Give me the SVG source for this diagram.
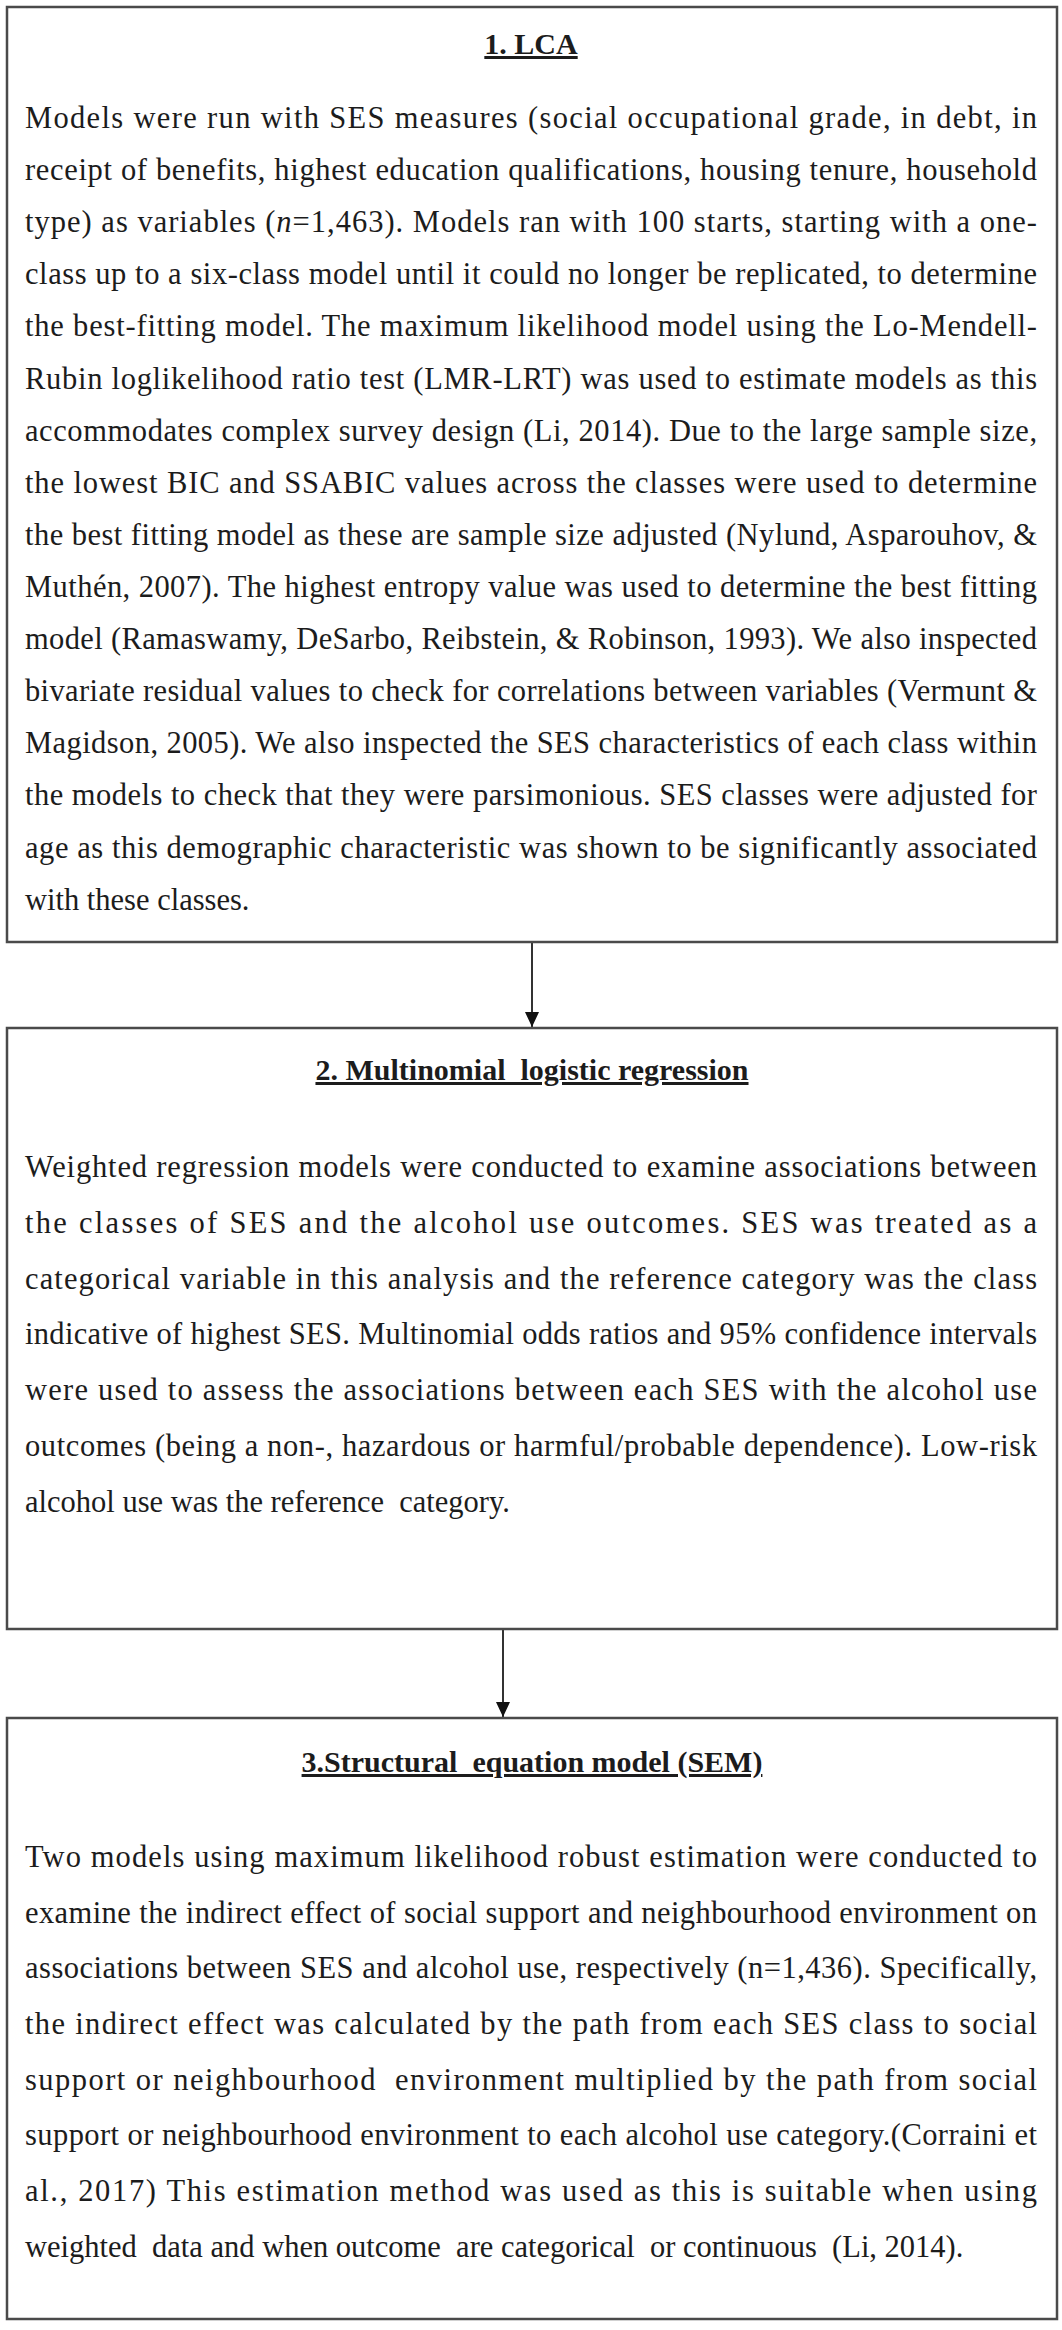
<svg xmlns="http://www.w3.org/2000/svg" width="1062" height="2330" viewBox="0 0 1062 2330">
<style>
.box{fill:#fff;stroke:#4a4a4a;stroke-width:2.5}
.t{font-family:"Liberation Serif","Times New Roman",serif;font-size:30px;font-weight:bold;fill:#1c1c1c;text-anchor:middle;text-decoration:underline;white-space:pre}
.b{font-family:"Liberation Serif","Times New Roman",serif;font-size:30.5px;fill:#1c1c1c;white-space:pre}
.c{stroke:#333;stroke-width:2;fill:none}
</style>
<defs>
<marker id="ah" markerWidth="16" markerHeight="14" refX="15" refY="7" orient="auto" markerUnits="userSpaceOnUse">
<path d="M0,0 L15,7 L0,14 Z" fill="#111"/>
</marker>
</defs>
<rect width="1062" height="2330" fill="#fff"/>
<g id="connectors">
<line class="c" x1="532" y1="942" x2="532" y2="1027" marker-end="url(#ah)"/>
<line class="c" x1="503" y1="1629" x2="503" y2="1717" marker-end="url(#ah)"/>
</g>
<g id="node-lca">
<rect class="box" x="7" y="7" width="1050" height="935"/>
<text class="t" x="531" y="54">1. LCA</text>
<text class="b" x="25" y="128" textLength="1012" lengthAdjust="spacing">Models were run with SES measures (social occupational grade, in debt, in</text>
<text class="b" x="25" y="180" textLength="1012" lengthAdjust="spacing">receipt of benefits, highest education qualifications, housing tenure, household</text>
<text class="b" x="25" y="232" textLength="1012" lengthAdjust="spacing">type) as variables (<tspan font-style="italic">n</tspan>=1,463). Models ran with 100 starts, starting with a one-</text>
<text class="b" x="25" y="284" textLength="1012" lengthAdjust="spacing">class up to a six-class model until it could no longer be replicated, to determine</text>
<text class="b" x="25" y="336" textLength="1012" lengthAdjust="spacing">the best-fitting model. The maximum likelihood model using the Lo-Mendell-</text>
<text class="b" x="25" y="389" textLength="1012" lengthAdjust="spacing">Rubin loglikelihood ratio test (LMR-LRT) was used to estimate models as this</text>
<text class="b" x="25" y="441" textLength="1012" lengthAdjust="spacing">accommodates complex survey design (Li, 2014). Due to the large sample size,</text>
<text class="b" x="25" y="493" textLength="1012" lengthAdjust="spacing">the lowest BIC and SSABIC values across the classes were used to determine</text>
<text class="b" x="25" y="545" textLength="1012" lengthAdjust="spacing">the best fitting model as these are sample size adjusted (Nylund, Asparouhov, &amp;</text>
<text class="b" x="25" y="597" textLength="1012" lengthAdjust="spacing">Muthén, 2007). The highest entropy value was used to determine the best fitting</text>
<text class="b" x="25" y="649" textLength="1012" lengthAdjust="spacing">model (Ramaswamy, DeSarbo, Reibstein, &amp; Robinson, 1993). We also inspected</text>
<text class="b" x="25" y="701" textLength="1012" lengthAdjust="spacing">bivariate residual values to check for correlations between variables (Vermunt &amp;</text>
<text class="b" x="25" y="753" textLength="1012" lengthAdjust="spacing">Magidson, 2005). We also inspected the SES characteristics of each class within</text>
<text class="b" x="25" y="805" textLength="1012" lengthAdjust="spacing">the models to check that they were parsimonious. SES classes were adjusted for</text>
<text class="b" x="25" y="858" textLength="1012" lengthAdjust="spacing">age as this demographic characteristic was shown to be significantly associated</text>
<text class="b" x="25" y="910">with these classes.</text>
</g>
<g id="node-mlr">
<rect class="box" x="7" y="1028" width="1050" height="601"/>
<text class="t" x="532" y="1080">2. Multinomial  logistic regression</text>
<text class="b" x="25" y="1177" textLength="1012" lengthAdjust="spacing">Weighted regression models were conducted to examine associations between</text>
<text class="b" x="25" y="1233" textLength="1012" lengthAdjust="spacing">the classes of SES and the alcohol use outcomes. SES was treated as a</text>
<text class="b" x="25" y="1289" textLength="1012" lengthAdjust="spacing">categorical variable in this analysis and the reference category was the class</text>
<text class="b" x="25" y="1344" textLength="1012" lengthAdjust="spacing">indicative of highest SES. Multinomial odds ratios and 95% confidence intervals</text>
<text class="b" x="25" y="1400" textLength="1012" lengthAdjust="spacing">were used to assess the associations between each SES with the alcohol use</text>
<text class="b" x="25" y="1456" textLength="1012" lengthAdjust="spacing">outcomes (being a non-, hazardous or harmful/probable dependence). Low-risk</text>
<text class="b" x="25" y="1512">alcohol use was the reference  category.</text>
</g>
<g id="node-sem">
<rect class="box" x="7" y="1718" width="1050" height="601"/>
<text class="t" x="532" y="1772">3.Structural  equation model (SEM)</text>
<text class="b" x="25" y="1867" textLength="1012" lengthAdjust="spacing">Two models using maximum likelihood robust estimation were conducted to</text>
<text class="b" x="25" y="1923" textLength="1012" lengthAdjust="spacing">examine the indirect effect of social support and neighbourhood environment on</text>
<text class="b" x="25" y="1978" textLength="1012" lengthAdjust="spacing">associations between SES and alcohol use, respectively (n=1,436). Specifically,</text>
<text class="b" x="25" y="2034" textLength="1012" lengthAdjust="spacing">the indirect effect was calculated by the path from each SES class to social</text>
<text class="b" x="25" y="2090" textLength="1012" lengthAdjust="spacing">support or neighbourhood  environment multiplied by the path from social</text>
<text class="b" x="25" y="2145" textLength="1012" lengthAdjust="spacing">support or neighbourhood environment to each alcohol use category.(Corraini et</text>
<text class="b" x="25" y="2201" textLength="1012" lengthAdjust="spacing">al., 2017) This estimation method was used as this is suitable when using</text>
<text class="b" x="25" y="2257">weighted  data and when outcome  are categorical  or continuous  (Li, 2014).</text>
</g>
</svg>
